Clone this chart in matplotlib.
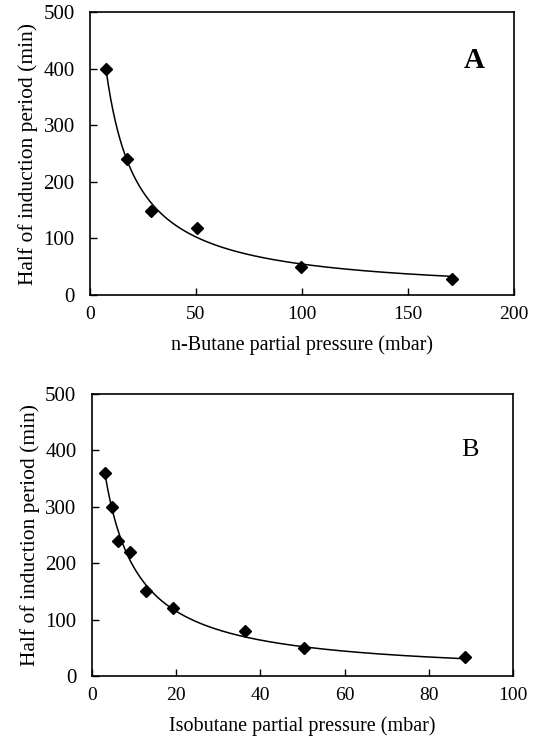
"""
Half of induction period vs. alkane partial pressure
panel A : n-butane, panel B : isobutane
"""

import numpy as np
import matplotlib
matplotlib.use("Agg")
import matplotlib.pyplot as plt

# ==========================================================
# DATA
# ==========================================================

butane_pressure = [7.5, 17.6, 28.8, 50.6, 99.7, 171.0]
butane_half_period = [400, 241, 149, 119, 50, 28]

isobutane_pressure = [3.2, 4.8, 6.3, 9.1, 12.8, 19.4, 36.4, 50.3, 88.5]
isobutane_half_period = [360, 300, 240, 220, 150, 121, 80, 50, 33]

# ==========================================================
# STYLE
# ==========================================================

plt.rcParams["font.family"] = ["Liberation Serif", "DejaVu Serif"]
plt.rcParams["font.size"] = 14


# ==========================================================
# HYPERBOLIC FIT  y = a / (x + b)
# ==========================================================

def hyperbolic_fit(x, y):

    x = np.asarray(x, dtype=float)
    y = np.asarray(y, dtype=float)

    best = None

    for b in np.linspace(0.0, 30.0, 3001):

        g = 1.0 / (x + b)
        a = np.sum(y * g) / np.sum(g * g)
        sse = np.sum((y - a * g) ** 2)

        if best is None or sse < best[0]:
            best = (sse, a, b)

    _, a, b = best

    xs = np.linspace(x.min(), x.max(), 300)

    return xs, a / (xs + b)


# ==========================================================
# PANEL
# ==========================================================

def draw_panel(ax, x, y, xmax, xticks, xlabel, letter, letter_pos, bold):

    xs, ys = hyperbolic_fit(x, y)

    ax.plot(xs, ys, color="black", linewidth=1.1)

    ax.plot(
        x,
        y,
        linestyle="none",
        marker="D",
        markersize=6.5,
        color="black"
    )

    ax.set_xlim(0, xmax)
    ax.set_ylim(0, 500)

    ax.set_xticks(xticks)
    ax.set_yticks([0, 100, 200, 300, 400, 500])

    ax.tick_params(direction="in", length=5, width=1)
    ax.tick_params(axis="x", labelsize=14, pad=8)
    ax.tick_params(axis="y", labelsize=15, pad=11)

    for spine in ax.spines.values():
        spine.set_linewidth(1.2)

    ax.set_xlabel(xlabel, fontsize=14.5, labelpad=9)
    ax.set_ylabel("Half of induction period (min)", fontsize=15.5, labelpad=4)

    ax.text(
        letter_pos[0],
        letter_pos[1],
        letter,
        ha="center",
        va="center",
        fontsize=21 if bold else 19,
        fontweight="bold" if bold else "normal"
    )


# ==========================================================
# MAIN
# ==========================================================

def main():

    fig = plt.figure(figsize=(5.37, 7.37), dpi=100)

    ax_a = fig.add_axes([0.1676, 0.5997, 0.7894, 0.384])
    ax_b = fig.add_axes([0.1707, 0.0828, 0.7853, 0.3826])

    draw_panel(
        ax_a,
        butane_pressure,
        butane_half_period,
        200,
        [0, 50, 100, 150, 200],
        "n-Butane partial pressure (mbar)",
        "A",
        (181.5, 415),
        True
    )

    draw_panel(
        ax_b,
        isobutane_pressure,
        isobutane_half_period,
        100,
        [0, 20, 40, 60, 80, 100],
        "Isobutane partial pressure (mbar)",
        "B",
        (89.7, 401),
        False
    )

    fig.savefig("out.png", dpi=100)

    plt.close(fig)


if __name__ == "__main__":

    main()
